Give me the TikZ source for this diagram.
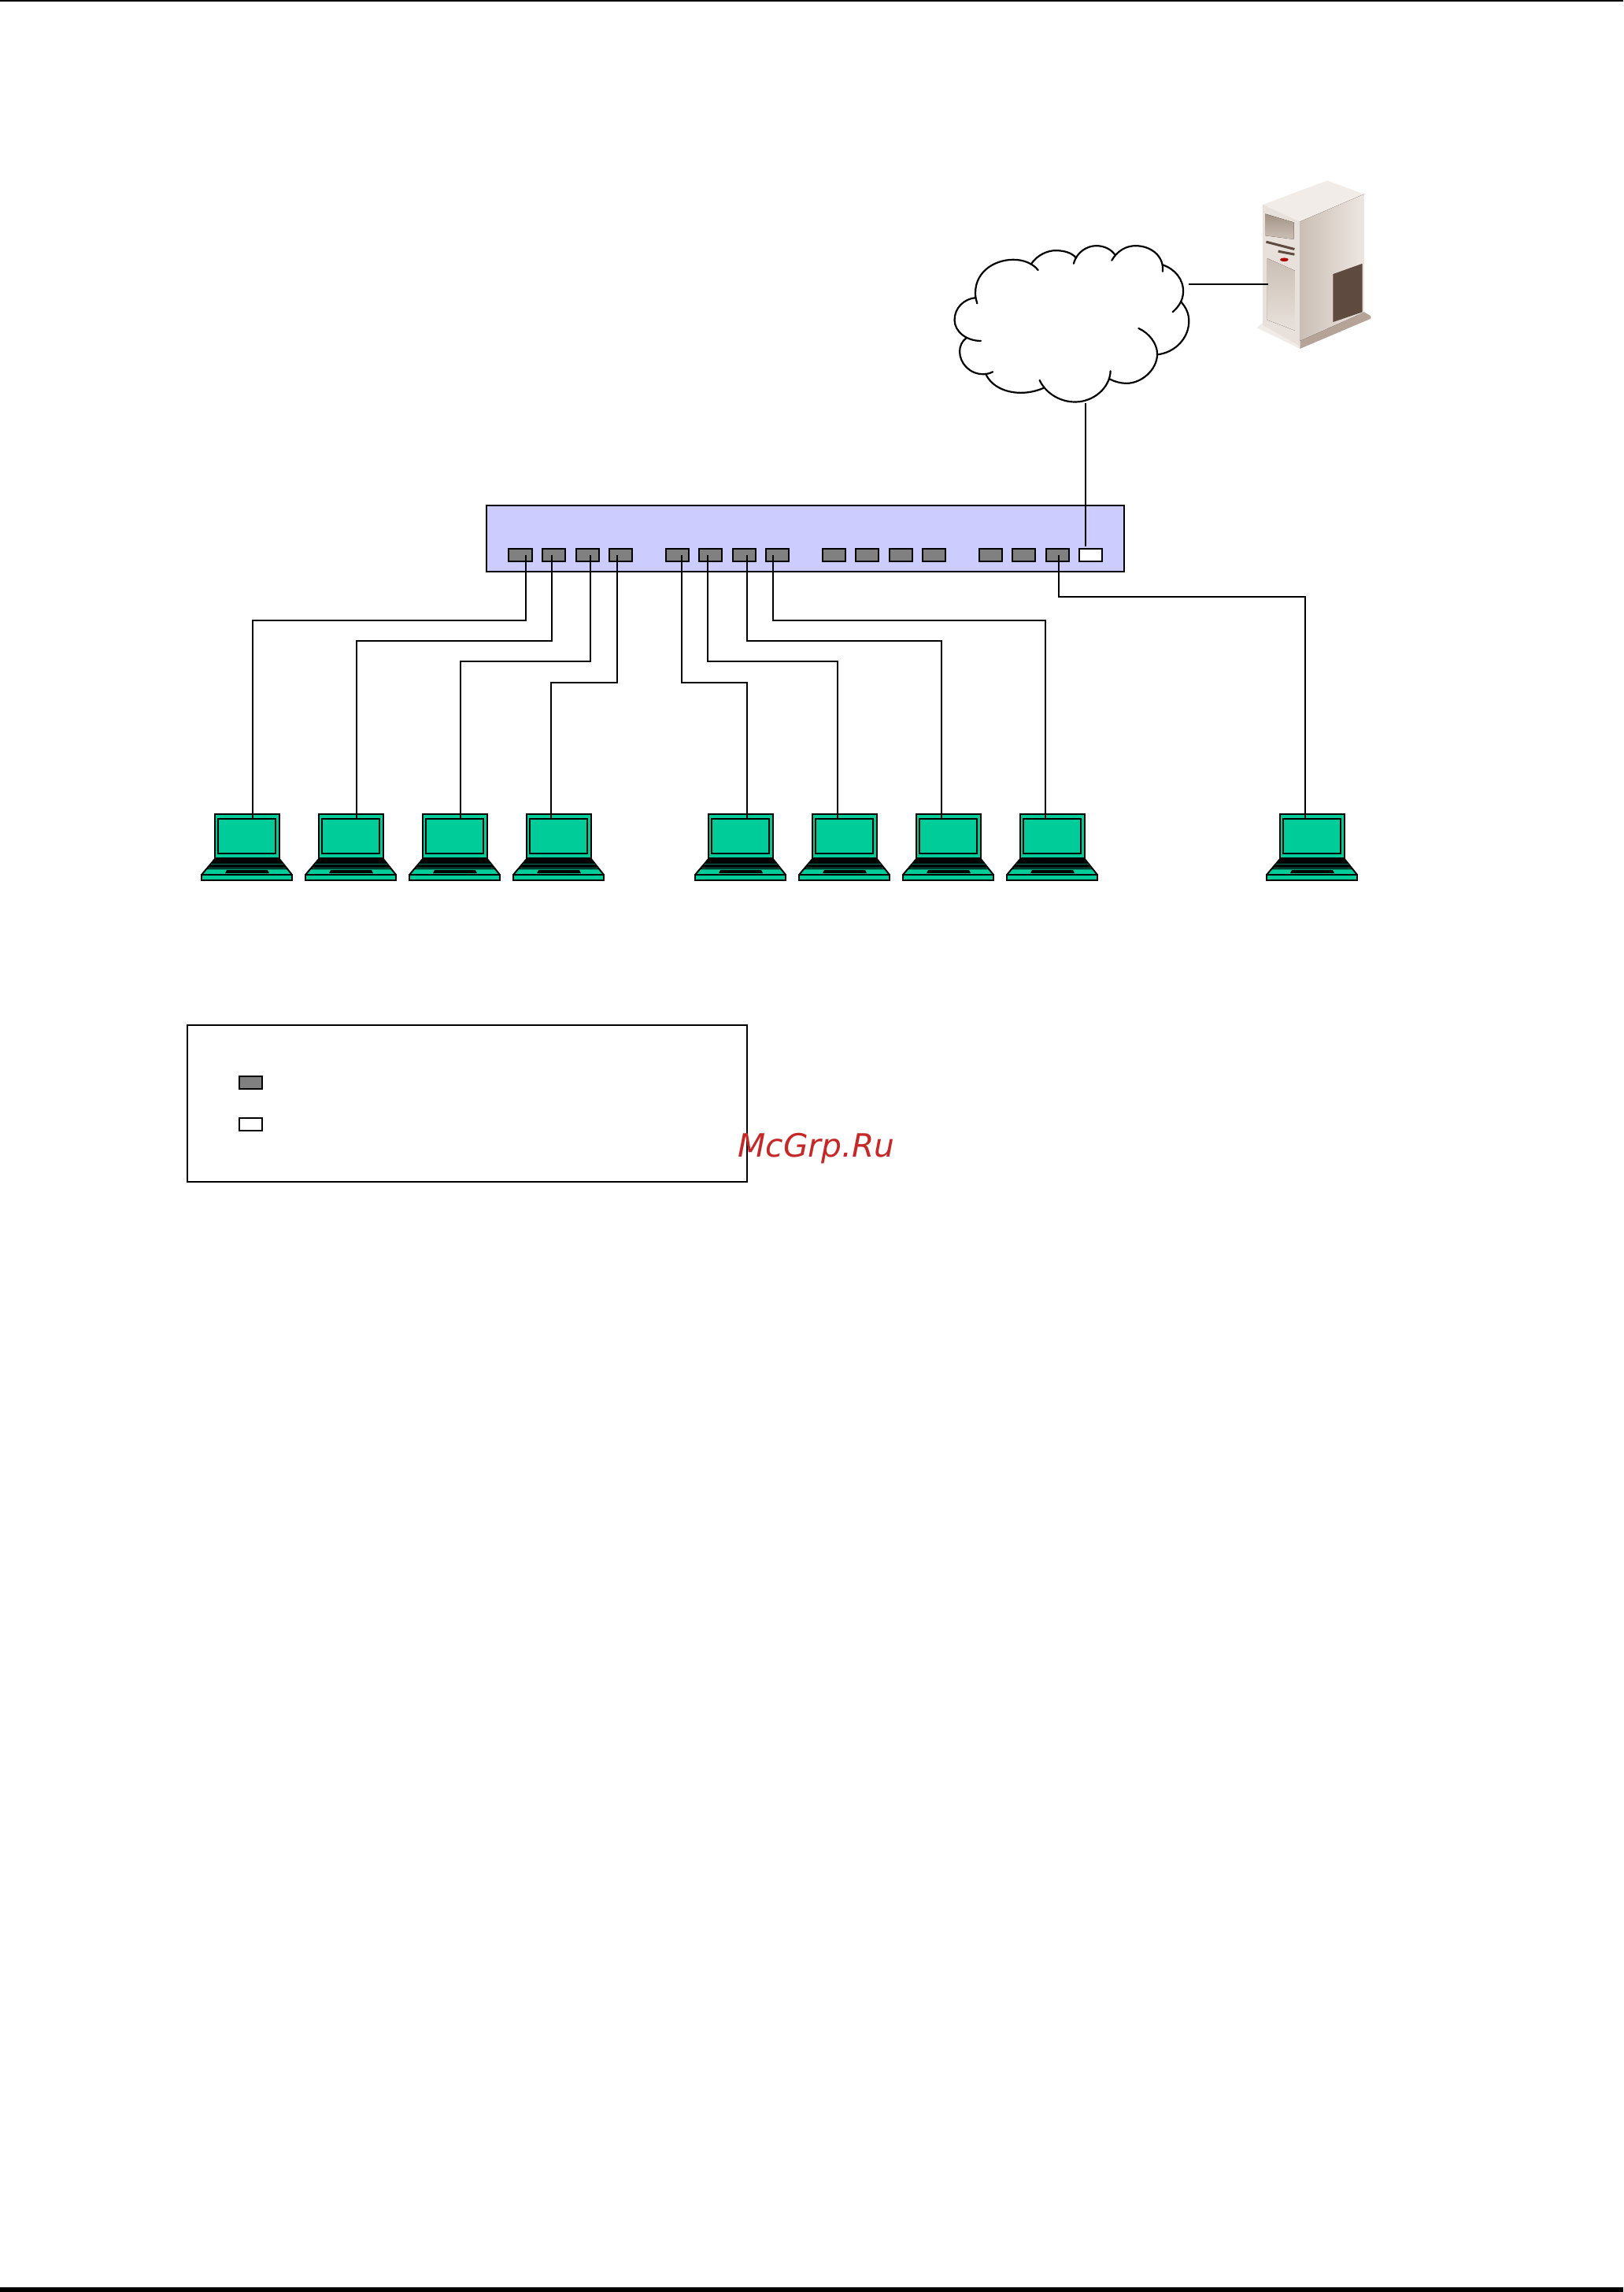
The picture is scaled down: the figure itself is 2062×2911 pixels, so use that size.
\documentclass[tikz,border=0pt]{standalone}
\usepackage{fontspec}
\newfontfamily\markfont{DejaVu Sans}
\definecolor{switchblue}{HTML}{CCCCFF}
\definecolor{lapgreen}{HTML}{00CC99}
\definecolor{portgray}{HTML}{808080}
\definecolor{markred}{HTML}{C62828}
\definecolor{srvtop}{HTML}{F1ECE8}
\definecolor{srvfront}{HTML}{E8E1DB}
\definecolor{srvshade}{HTML}{CBBFB5}
\definecolor{srvlight}{HTML}{EDE6E1}
\definecolor{srvdark}{HTML}{5E4A3E}
\definecolor{srvfoot}{HTML}{B5A397}
\definecolor{srvvent}{HTML}{A39386}

\begin{document}
\begin{tikzpicture}[x=0.01cm,y=-0.01cm,node distance=0.425cm,line width=0.02cm,
	box node/.style={draw,inner sep=0,outer sep=0},
	port node/.style={box node,fill=portgray,minimum width=0.29cm,minimum height=0.16cm},
	open node/.style={port node,fill=white},
	wire/.style={shorten >=-0.06cm},
	cloud line/.style={line width=0.022cm,line cap=round},
	laptop/.pic={
		\node[box node,fill=lapgreen,minimum width=0.82cm,minimum height=0.56cm] (screen) at (0,0) {};
		\draw[fill=lapgreen] (-37,-22) rectangle (36,22);
		\draw[fill=lapgreen,miter limit=1] (-58,49) -- (-41,29) -- (41,29) -- (57,49) -- cycle;
		\fill (-41,29) -- (41,29) -- (51,42) -- (-51,42) -- cycle;
		\draw[lapgreen!60!black,line width=0.008cm] (-46,35) -- (46,35) (-49,40) -- (49,40);
		\fill (-26,43) -- (26,43) -- (28,47) -- (-28,47) -- cycle;
		\draw[fill=lapgreen] (-58,49) rectangle (57,56);
	}]
	\useasboundingbox (0,0) rectangle (2062,2911);
	\fill (0,0) rectangle (2062,2);
	\fill (0,2905) rectangle (2062,2911);
	
	% switch and its ports
	\node[box node,fill=switchblue,minimum width=8.1cm,minimum height=0.84cm,line width=0.025cm] (switch) at (1023,684) {};
	\node[port node] (p1) at (661,704.5) {};
	\node[port node] (p2) [right of=p1] {};
	\node[port node] (p3) [right of=p2] {};
	\node[port node] (p4) [right of=p3] {};
	\node[port node] (p5) [right of=p4,xshift=0.29cm] {};
	\node[port node] (p6) [right of=p5] {};
	\node[port node] (p7) [right of=p6] {};
	\node[port node] (p8) [right of=p7] {};
	\node[port node] (p9) [right of=p8,xshift=0.29cm] {};
	\node[port node] (p10) [right of=p9] {};
	\node[port node] (p11) [right of=p10] {};
	\node[port node] (p12) [right of=p11] {};
	\node[port node] (p13) [right of=p12,xshift=0.29cm] {};
	\node[port node] (p14) [right of=p13] {};
	\node[port node] (p15) [right of=p14] {};
	\node[open node] (p16) [right of=p15] {};
	
	% laptops
	\pic (l1) at (314,1062) {laptop};
	\pic (l2) at (446,1062) {laptop};
	\pic (l3) at (578,1062) {laptop};
	\pic (l4) at (710,1062) {laptop};
	\pic (l5) at (941,1062) {laptop};
	\pic (l6) at (1073,1062) {laptop};
	\pic (l7) at (1205,1062) {laptop};
	\pic (l8) at (1337,1062) {laptop};
	\pic (l9) at (1667,1062) {laptop};
	
	% cloud
	\node[inner sep=0,outer sep=0,minimum width=2.98cm,minimum height=2cm] (cloud) at (1361,412) {};
	\begin{scope}[shift={(1180,200)},x=0.003827cm,y=-0.003333cm]
	\draw[cloud line] (155,535) .. controls (145,440) and (215,390) .. (280,390) .. controls (315,390) and (345,405) .. (362,430);
	\draw[cloud line] (338,408) .. controls (360,370) and (395,355) .. (420,355) .. controls (450,355) and (475,365) .. (487,382);
	\draw[cloud line] (480,405) .. controls (490,360) and (525,337) .. (555,337) .. controls (580,337) and (605,350) .. (617,372);
	\draw[cloud line] (606,393) .. controls (625,355) and (655,337) .. (685,337) .. controls (735,337) and (780,375) .. (775,435);
	\draw[cloud line] (775,410) .. controls (815,425) and (845,465) .. (843,515) .. controls (842,545) and (828,570) .. (808,590);
	\draw[cloud line] (835,550) .. controls (855,575) and (862,600) .. (862,625) .. controls (862,690) and (815,745) .. (758,752);
	\draw[cloud line] (695,652) .. controls (730,670) and (757,710) .. (757,750) .. controls (757,810) and (705,862) .. (655,862) .. controls (635,862) and (615,855) .. (598,845);
	\draw[cloud line] (602,815) .. controls (600,880) and (545,933) .. (485,933) .. controls (430,933) and (385,895) .. (367,850);
	\draw[cloud line] (380,880) .. controls (355,892) and (330,898) .. (305,898) .. controls (250,898) and (205,870) .. (188,825);
	\draw[cloud line] (212,818) .. controls (200,825) and (190,827) .. (180,827) .. controls (135,827) and (102,785) .. (102,740) .. controls (102,720) and (110,700) .. (125,688);
	\draw[cloud line] (172,700) .. controls (125,700) and (85,665) .. (85,620) .. controls (85,575) and (115,540) .. (155,535) -- (160,557);
	\end{scope}
	
	% server
	\begin{scope}[shift={(1180,200)},x=0.003827cm,y=-0.003333cm]
	\fill[srvtop] (1087,650) -- (1107,630) -- (1230,690) -- (1230,730) -- cycle;
	\fill[srvfoot] (1230,700) -- (1443,590) -- (1465,605) -- (1465,615) -- (1230,730) -- cycle;
	\fill[srvtop] (1107,180) -- (1320,88) -- (1443,140) -- (1230,245) -- cycle;
	\fill[srvfront] (1107,180) -- (1230,245) -- (1230,720) -- (1107,640) -- cycle;
	\fill[left color=srvshade,right color=srvlight] (1230,245) -- (1443,140) -- (1443,590) -- (1230,700) -- cycle;
	\fill[srvdark] (1340,445) -- (1437,405) -- (1437,590) -- (1340,628) -- cycle;
	\fill[top color=srvvent,bottom color=srvshade] (1115,215) -- (1210,248) -- (1210,312) -- (1115,298) -- cycle;
	\draw[srvdark,line width=0.03cm] (1118,322) -- (1212,350);
	\draw[srvdark,line width=0.03cm] (1158,358) -- (1212,370);
	\fill[red!70!black] (1178,390) ellipse (14 and 7);
	\fill[top color=srvshade,bottom color=srvfront] (1122,385) -- (1213,432) -- (1213,660) -- (1122,620) -- cycle;
	\node[inner sep=0,outer sep=0] (server) at (1124,485) {};
	\end{scope}
	
	% wires
	\draw (server.center) -- (server.center -| cloud.east);
	\draw ([xshift=-0.07cm,yshift=0.03cm]p16.north) -- ([xshift=-0.07cm]p16.north |- cloud.south);
	\draw[wire] ([xshift=0.065cm]p1.center) -- ++(0,83.5) -| ([xshift=0.07cm]l1screen.north);
	\draw[wire] ([xshift=-0.03cm]p2.center) -- ++(0,109) -| ([xshift=0.07cm]l2screen.north);
	\draw[wire] ([xshift=0.04cm]p3.center) -- ++(0,135.5) -| ([xshift=0.07cm]l3screen.north);
	\draw[wire] ([xshift=-0.05cm]p4.center) -- ++(0,162.5) -| ([xshift=-0.10cm]l4screen.north);
	\draw[wire] ([xshift=0.06cm]p5.center) -- ++(0,162.5) -| ([xshift=0.08cm]l5screen.north);
	\draw[wire] ([xshift=-0.035cm]p6.center) -- ++(0,135.5) -| ([xshift=-0.09cm]l6screen.north);
	\draw[wire] ([xshift=0.035cm]p7.center) -- ++(0,109) -| ([xshift=-0.09cm]l7screen.north);
	\draw[wire] ([xshift=-0.06cm]p8.center) -- ++(0,83.5) -| ([xshift=-0.09cm]l8screen.north);
	\draw[wire] ([xshift=0.02cm]p15.center) -- ++(0,53.5) -| ([xshift=-0.09cm]l9screen.north);
	
	% key
	\node[box node,minimum width=7.11cm,minimum height=1.98cm] (legend) at (593.5,1401.5) {};
	\node[port node] (k1) at (318.5,1375) {};
	\node[open node] (k2) at (318.5,1427.5) {};
	
	\node[inner sep=0,text=markred,font=\markfont\itshape\fontsize{11.6}{14}\selectfont] (mark) at (1037,1459) {McGrp.Ru};
\end{tikzpicture}
\end{document}
